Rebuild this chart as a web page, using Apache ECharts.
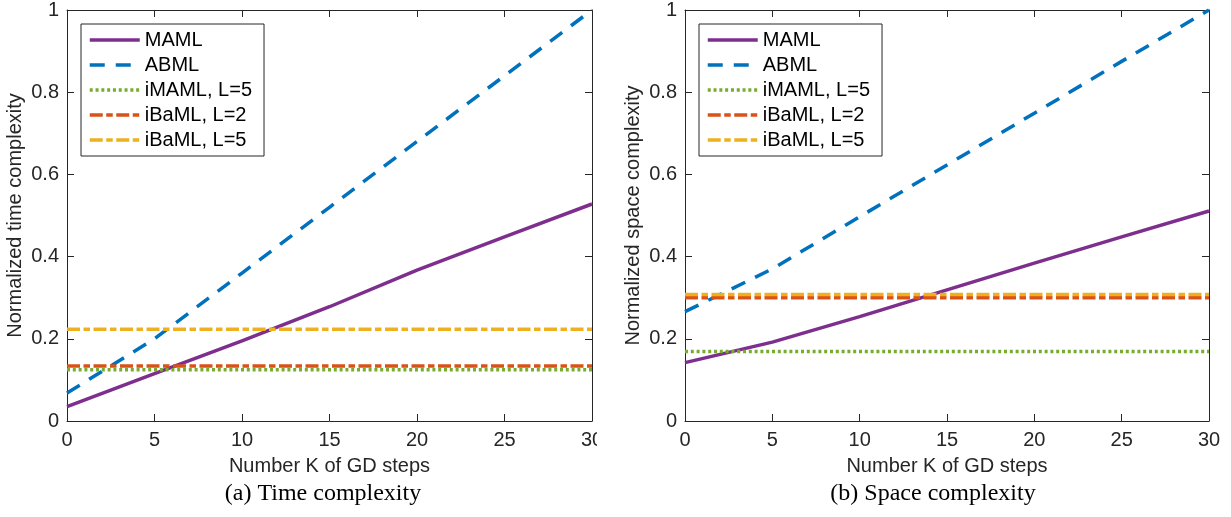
<!DOCTYPE html>
<html>
<head>
<meta charset="utf-8">
<style>
html,body{margin:0;padding:0;background:#fff;}
#chart{width:1231px;height:517px;}
</style>
<script src="https://cdn.jsdelivr.net/npm/echarts@6/dist/echarts.min.js"></script>
</head>
<body>
<div id="chart"></div>
<script>
// ---- data ----
var K = [0, 5, 10, 15, 20, 25, 30];
var seriesNames = ['MAML', 'ABML', 'iMAML, L=5', 'iBaML, L=2', 'iBaML, L=5'];
// (a) Time complexity
var timeMAML   = [0.035, 0.115, 0.195, 0.278, 0.367, 0.448, 0.528];
var timeABML   = [0.068, 0.200, 0.360, 0.520, 0.680, 0.840, 1.000];
var timeIMAML  = [0.125, 0.125, 0.125, 0.125, 0.125, 0.125, 0.125];
var timeIBaML2 = [0.134, 0.134, 0.134, 0.134, 0.134, 0.134, 0.134];
var timeIBaML5 = [0.223, 0.223, 0.223, 0.223, 0.223, 0.223, 0.223];
// (b) Space complexity
var spaceMAML   = [0.142, 0.192, 0.254, 0.319, 0.384, 0.448, 0.511];
var spaceABML   = [0.266, 0.370, 0.497, 0.623, 0.749, 0.875, 1.000];
var spaceIMAML  = [0.169, 0.169, 0.169, 0.169, 0.169, 0.169, 0.169];
var spaceIBaML2 = [0.300, 0.300, 0.300, 0.300, 0.300, 0.300, 0.300];
var spaceIBaML5 = [0.308, 0.308, 0.308, 0.308, 0.308, 0.308, 0.308];
var xTicks = [0, 5, 10, 15, 20, 25, 30];
var yTicks = [0, 0.2, 0.4, 0.6, 0.8, 1];
var xLabel = 'Number K of GD steps';
var yLabels = ['Normalized time complexity', 'Normalized space complexity'];
var captions = ['(a) Time complexity', '(b) Space complexity'];

// ---- styles ----
var colors = ['#7E2F8E', '#0072BD', '#77AC30', '#D95319', '#EDB120'];
var dashes = ['solid', [15, 11], [3, 2.8], [13, 3.5, 6.5, 3.5], [13, 3.5, 6.5, 3.5]];
var SANS = "'Liberation Sans', Arial, Helvetica, sans-serif";
var SERIF = "'Liberation Serif', 'Times New Roman', serif";
var AX = '#262626';
var LW = 3.5;

function pairs(vals) { return K.map(function (k, i) { return [k, vals[i]]; }); }

var chart = echarts.init(document.getElementById('chart'), null, {renderer: 'canvas'});

var grids = [
  {left: 67, top: 10, width: 525, height: 411},
  {left: 685, top: 10, width: 524, height: 411}
];

var xAxes = [], yAxes = [];
[0, 1].forEach(function (g) {
  xAxes.push({
    type: 'value', gridIndex: g, position: 'bottom',
    min: xTicks[0], max: xTicks[xTicks.length - 1], interval: 5,
    name: xLabel, nameLocation: 'middle', nameGap: 35,
    nameTextStyle: {fontFamily: SANS, fontSize: 20, color: AX},
    axisLine: {show: true, onZero: false, lineStyle: {color: AX, width: 1}},
    axisTick: {show: true, inside: true, length: 7, lineStyle: {color: AX}},
    axisLabel: {show: true, fontFamily: SANS, fontSize: 20, color: AX, margin: 9, showMinLabel: true, showMaxLabel: true, hideOverlap: false},
    splitLine: {show: false}
  });
  xAxes.push({
    type: 'value', gridIndex: g, position: 'top',
    min: xTicks[0], max: xTicks[xTicks.length - 1], interval: 5,
    axisLine: {show: true, onZero: false, lineStyle: {color: AX, width: 1}},
    axisTick: {show: true, inside: true, length: 7, lineStyle: {color: AX}},
    axisLabel: {show: false}, splitLine: {show: false}
  });
  yAxes.push({
    type: 'value', gridIndex: g, position: 'left',
    min: yTicks[0], max: yTicks[yTicks.length - 1], interval: 0.2,
    name: yLabels[g], nameLocation: 'middle', nameGap: 42,
    nameTextStyle: {fontFamily: SANS, fontSize: 20, color: AX},
    axisLine: {show: true, onZero: false, lineStyle: {color: AX, width: 1}},
    axisTick: {show: true, inside: true, length: 7, lineStyle: {color: AX}},
    axisLabel: {show: true, fontFamily: SANS, fontSize: 20, color: AX, margin: 8, showMinLabel: true, showMaxLabel: true, hideOverlap: false},
    splitLine: {show: false}
  });
  yAxes.push({
    type: 'value', gridIndex: g, position: 'right',
    min: yTicks[0], max: yTicks[yTicks.length - 1], interval: 0.2,
    axisLine: {show: true, onZero: false, lineStyle: {color: AX, width: 1}},
    axisTick: {show: true, inside: true, length: 7, lineStyle: {color: AX}},
    axisLabel: {show: false}, splitLine: {show: false}
  });
});

var dataSets = [
  [timeMAML, timeABML, timeIMAML, timeIBaML2, timeIBaML5],
  [spaceMAML, spaceABML, spaceIMAML, spaceIBaML2, spaceIBaML5]
];

var series = [];
[0, 1].forEach(function (g) {
  dataSets[g].forEach(function (vals, i) {
    series.push({
      name: seriesNames[i], type: 'line',
      xAxisIndex: g * 2, yAxisIndex: g * 2,
      data: pairs(vals),
      symbol: 'none', showSymbol: false, smooth: false,
      lineStyle: {color: colors[i], width: LW, type: dashes[i], cap: 'butt'},
      itemStyle: {color: colors[i]},
      emphasis: {disabled: true},
      animation: false, z: 2 + i
    });
  });
});

var legends = [81, 699].map(function (lx) {
  return {
    show: true, orient: 'vertical', left: lx, top: 24,
    data: seriesNames,
    itemWidth: 50, itemHeight: 14, itemGap: 5,
    padding: [6, 12, 6, 7],
    borderColor: AX, borderWidth: 1, backgroundColor: '#fff',
    selectedMode: false,
    itemStyle: {opacity: 0},
    lineStyle: {width: LW},
    textStyle: {fontFamily: SANS, fontSize: 20, color: '#000', lineHeight: 20}
  };
});

chart.setOption({
  animation: false,
  backgroundColor: '#fff',
  grid: grids,
  xAxis: xAxes,
  yAxis: yAxes,
  legend: legends,
  series: series,
  graphic: [
    {type: 'rect', left: 597, top: 424, shape: {width: 40, height: 26}, style: {fill: '#fff'}, z: 100},
    {type: 'text', x: 323, y: 494, style: {text: captions[0], font: '24px ' + SERIF, fill: '#000', textAlign: 'center', textVerticalAlign: 'middle'}, z: 100},
    {type: 'text', x: 933, y: 494, style: {text: captions[1], font: '24px ' + SERIF, fill: '#000', textAlign: 'center', textVerticalAlign: 'middle'}, z: 100}
  ]
});
</script>
</body>
</html>
